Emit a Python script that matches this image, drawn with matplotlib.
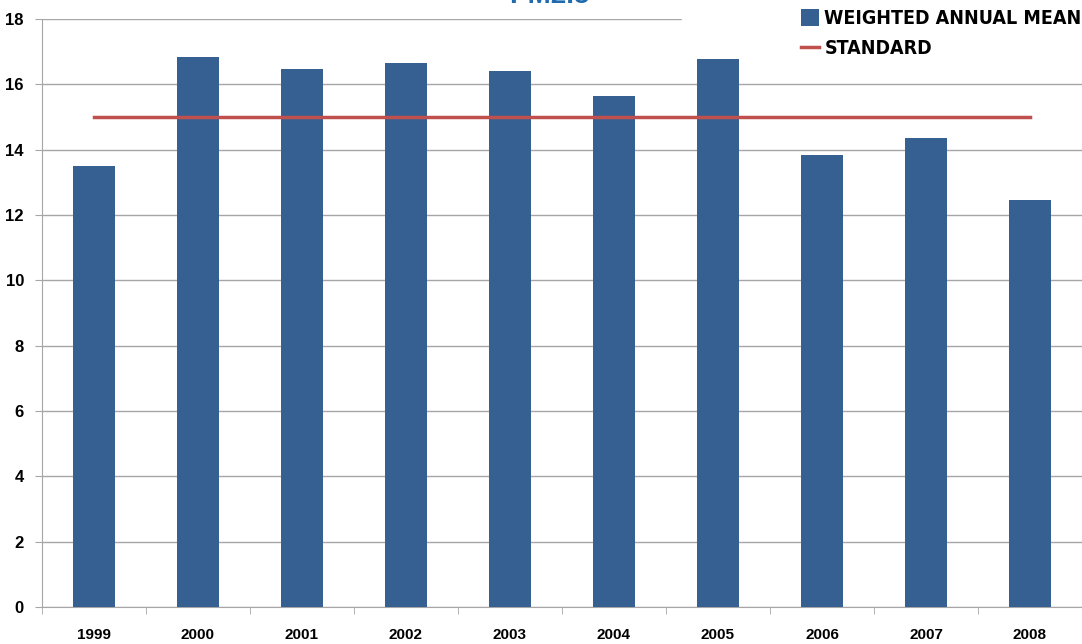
import matplotlib.pyplot as plt
import numpy as np

years = ['1999', '2000', '2001', '2002', '2003', '2004', '2005', '2006', '2007', '2008']
weighted_mean = [13.5, 16.85, 16.48, 16.65, 16.4, 15.63, 16.78, 13.84, 14.37, 12.47]
standard = [15] * len(years)

bar_color = '#366092'
line_color = '#C0504D'

fig = plt.figure(figsize=(10.82, 6.44), dpi=100)
ax = fig.add_axes([0.0388, 0.0575, 0.9612, 0.913])

x = np.arange(len(years))
bars = ax.bar(x, weighted_mean, width=0.4, color=bar_color, label='WEIGHTED ANNUAL MEAN', zorder=3)
line, = ax.plot(x, standard, color=line_color, linewidth=2.5, label='STANDARD', zorder=4)

ax.set_xlim(-0.5, len(years) - 0.5)
ax.set_ylim(0, 18)
ax.set_yticks(range(0, 19, 2))
ax.yaxis.grid(True, color='#A6A6A6', linewidth=1, zorder=0)
ax.set_axisbelow(True)

ax.set_xticks(x)
ax.set_xticklabels(years)
ax.set_xticks(np.arange(-0.5, len(years), 1), minor=True)
ax.tick_params(axis='x', which='major', length=0, pad=15)
ax.tick_params(axis='x', which='minor', length=5, color='#A6A6A6', direction='out')
ax.tick_params(axis='y', length=5, color='#A6A6A6', direction='out', pad=8)

for lbl in ax.get_xticklabels():
    lbl.set_fontfamily('Liberation Sans')
    lbl.set_fontweight('bold')
    lbl.set_fontsize(11)
for lbl in ax.get_yticklabels():
    lbl.set_fontfamily('Liberation Sans')
    lbl.set_fontweight('bold')
    lbl.set_fontsize(12)

for side in ['top', 'right']:
    ax.spines[side].set_visible(False)
ax.spines['left'].set_color('#A6A6A6')
ax.spines['bottom'].set_color('#A6A6A6')

fig.text(0.508, 1.006, 'PM2.5', ha='center', va='center', color='#1F6BAE',
         fontsize=20, fontweight='bold', fontfamily='Liberation Sans')

# white patch behind the legend hides the top gridline like the original
ax.axhspan(17.3, 18.5, xmin=0.615, xmax=1.0, color='white', zorder=1, clip_on=False)

leg = ax.legend([bars, line], ['WEIGHTED ANNUAL MEAN', 'STANDARD'],
                loc='upper left', bbox_to_anchor=(0.727, 1.022), frameon=True,
                facecolor='white', edgecolor='none', framealpha=1, fancybox=False,
                prop={'family': 'DejaVu Sans', 'stretch': 'condensed', 'weight': 'bold', 'size': 14},
                handlelength=0.95, handleheight=1.0, handletextpad=0.25,
                labelspacing=0.55, borderpad=0.15, borderaxespad=0)
leg.set_zorder(2)

fig.savefig('out.png', dpi=100)
